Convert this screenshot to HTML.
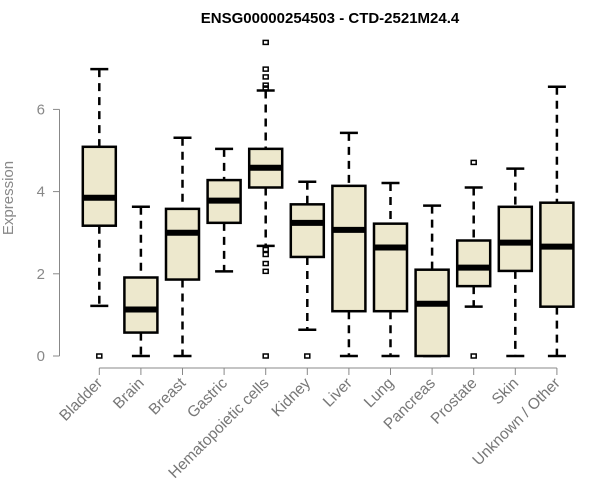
<!DOCTYPE html>
<html><head><meta charset="utf-8"><style>
body{margin:0;background:#fff}
svg{display:block;font-family:"Liberation Sans",sans-serif}
</style></head><body>
<svg id="chart" width="600" height="500">
<text x="330" y="23" text-anchor="middle" font-weight="bold" font-size="15" fill="#000">ENSG00000254503 - CTD-2521M24.4</text>
<g id="yaxis"></g>
<g id="xaxis"></g>
<g id="boxes"></g>
<text transform="translate(13,198) rotate(-90)" text-anchor="middle" font-size="15" fill="#888">Expression</text>
</svg>
<script>
const categories=["Bladder","Brain","Breast","Gastric","Hematopoietic cells","Kidney","Liver","Lung","Pancreas","Prostate","Skin","Unknown / Other"];
const whiskerLow=[1.22,0,0,2.06,2.68,0.64,0,0,0,1.20,0,0];
const q1=[3.17,0.57,1.86,3.24,4.10,2.41,1.09,1.09,0,1.70,2.07,1.20];
const medians=[3.85,1.13,3.0,3.78,4.58,3.24,3.07,2.64,1.27,2.15,2.76,2.66];
const q3=[5.09,1.91,3.58,4.28,5.04,3.69,4.14,3.22,2.10,2.81,3.63,3.73];
const whiskerHigh=[6.98,3.63,5.31,5.04,6.46,4.24,5.43,4.21,3.66,4.10,4.56,6.55];
const outliers=[[0],[],[],[],[7.63,6.98,6.79,6.59,6.52,2.59,2.47,2.25,2.06,0],[0],[],[],[],[4.71,0],[],[]];
const yTicks=[0,2,4,6];
const NS="http://www.w3.org/2000/svg";
function y(v){return 356-v*41.1;}
function x(i){return 99.3+i*41.6;}
function mk(tag,attrs,parent){const e=document.createElementNS(NS,tag);for(const k in attrs)e.setAttribute(k,attrs[k]);parent.appendChild(e);return e;}
const ya=document.getElementById('yaxis'),xa=document.getElementById('xaxis'),bx=document.getElementById('boxes');
let l=mk('line',{x1:59.5,x2:59.5,y1:y(0),y2:y(6),stroke:'#888'},ya);

yTicks.forEach(t=>{
 let tk=mk('line',{x1:53,x2:59.5,y1:y(t),y2:y(t),stroke:'#888'},ya);
 
 let tx=mk('text',{x:45,y:y(t)+5,'text-anchor':'end','font-size':15,fill:'#888'},ya);
 tx.textContent=t;
 
});
let xl=mk('line',{x1:x(0),x2:x(categories.length-1),y1:368,y2:368,stroke:'#888'},xa);

categories.forEach((c,i)=>{
 const cx=x(i);
 let tk=mk('line',{x1:cx,x2:cx,y1:368,y2:375,stroke:'#888'},xa);
 
 let tx=mk('text',{transform:`translate(${cx+4},${384}) rotate(-45)`,'text-anchor':'end','font-size':15.5,fill:'#777'},xa);
 tx.textContent=c;
 
 const g=mk('g',{},bx);
 
 
 mk('line',{x1:cx,x2:cx,y1:y(whiskerHigh[i]),y2:y(q3[i]),stroke:'#000','stroke-width':2.5,'stroke-dasharray':'8,6'},g);
 mk('line',{x1:cx,x2:cx,y1:y(q1[i]),y2:y(whiskerLow[i]),stroke:'#000','stroke-width':2.5,'stroke-dasharray':'8,6'},g);
 mk('line',{x1:cx-9,x2:cx+9,y1:y(whiskerHigh[i]),y2:y(whiskerHigh[i]),stroke:'#000','stroke-width':2.5},g);
 mk('line',{x1:cx-9,x2:cx+9,y1:y(whiskerLow[i]),y2:y(whiskerLow[i]),stroke:'#000','stroke-width':2.5},g);
 mk('rect',{x:cx-16.5,y:y(q3[i]),width:33,height:Math.max(y(q1[i])-y(q3[i]),0.1),fill:'#ede8cd',stroke:'#000','stroke-width':2.5},g);
 mk('line',{x1:cx-16.5,x2:cx+16.5,y1:y(medians[i]),y2:y(medians[i]),stroke:'#000','stroke-width':6},g);
 outliers[i].forEach(o=>{
  let p=mk('rect',{x:cx-2.5,y:y(o)-2,width:5,height:4,fill:'none',stroke:'#000','stroke-width':1.5},g);
  
 });
});
</script>
</body></html>
